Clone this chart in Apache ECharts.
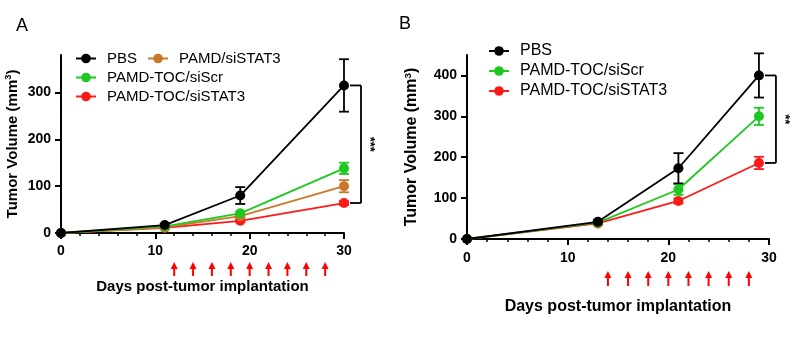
<!DOCTYPE html>
<html>
<head>
<meta charset="utf-8">
<script src="https://cdn.jsdelivr.net/npm/echarts@6/dist/echarts.min.js"></script>
<style>html,body{margin:0;padding:0;background:#fff}#c{width:800px;height:343px}</style>
</head>
<body>
<div id="c"></div>
<script>
// ---- Panel A data ----
const daysA = [0, 11, 19, 30];
const pbsA = [0, 17, 80, 315];
const pbsAErr = [0, 3, 18, 56];
const pamdStat3A = [0, 12, 36, 100];
const pamdStat3AErr = [0, 2, 4, 13];
const tocScrA = [0, 14, 42, 138];
const tocScrAErr = [0, 2, 4, 12];
const tocStat3A = [0, 11, 26, 64];
const tocStat3AErr = [0, 2, 3, 4];
const doseDaysA = [12, 14, 16, 18, 20, 22, 24, 26, 28];
const sigA = { day: 30, top: 315, bottom: 64, label: '***' };
const yTicksA = [0, 100, 200, 300];
const xTicks = [0, 10, 20, 30];

// ---- Panel B data ----
const daysB = [0, 13, 21, 29];
const pbsB = [0, 42, 173, 400];
const pbsBErr = [0, 4, 37, 54];
const tocScrB = [0, 40, 121, 300];
const tocScrBErr = [0, 3, 13, 21];
const tocStat3B = [0, 38, 93, 186];
const tocStat3BErr = [0, 3, 6, 15];
const doseDaysB = [14, 16, 18, 20, 22, 24, 26, 28];
const sigB = { day: 29, top: 400, bottom: 186, label: '**' };
const yTicksB = [0, 100, 200, 300, 400];

const names = { pbs: 'PBS', pamd: 'PAMD/siSTAT3', scr: 'PAMD-TOC/siScr', stat3: 'PAMD-TOC/siSTAT3' };
const colors = { pbs: '#000000', pamd: '#c8782a', scr: '#1ec81e', stat3: '#ff1a1a' };
const FONT = 'Liberation Sans, Arial, sans-serif';

function pairs(x, y) { return x.map((d, i) => [d, y[i]]); }
function errData(x, y, e) { return x.map((d, i) => [d, y[i], e[i]]); }

function lineSeries(key, x, y, idx) {
  return {
    type: 'line', name: names[key], xAxisIndex: idx, yAxisIndex: idx,
    data: pairs(x, y), symbol: 'circle', symbolSize: 10,
    itemStyle: { color: colors[key] }, lineStyle: { color: colors[key], width: 1.8 },
    z: 3, animation: false
  };
}
function errSeries(key, x, y, e, idx) {
  return {
    type: 'custom', name: names[key] + ' err', xAxisIndex: idx, yAxisIndex: idx,
    data: errData(x, y, e), z: 2, animation: false, silent: true,
    renderItem: function (params, api) {
      const xv = api.value(0), m = api.value(1), er = api.value(2);
      if (!er) return null;
      const hi = api.coord([xv, m + er]);
      const lo = api.coord([xv, m - er]);
      const st = { stroke: colors[key], lineWidth: 1.8 };
      return {
        type: 'group', children: [
          { type: 'line', shape: { x1: hi[0], y1: hi[1], x2: lo[0], y2: lo[1] }, style: st },
          { type: 'line', shape: { x1: hi[0] - 5, y1: hi[1], x2: hi[0] + 5, y2: hi[1] }, style: st },
          { type: 'line', shape: { x1: lo[0] - 5, y1: lo[1], x2: lo[0] + 5, y2: lo[1] }, style: st }
        ]
      };
    }
  };
}
function arrowSeries(days, idx, top, bottom) {
  return {
    type: 'custom', xAxisIndex: idx, yAxisIndex: idx, data: days.map(d => [d, 0]),
    clip: false, silent: true, animation: false, z: 5,
    renderItem: function (params, api) {
      const p = api.coord([api.value(0), 0]);
      const y0 = p[1] + top, y1 = p[1] + bottom;
      return {
        type: 'group', children: [
          { type: 'line', shape: { x1: p[0], y1: y0 + 5, x2: p[0], y2: y1 }, style: { stroke: '#ff0000', lineWidth: 2 } },
          { type: 'polygon', shape: { points: [[p[0], y0], [p[0] - 3.5, y0 + 7], [p[0] + 3.5, y0 + 7]] }, style: { fill: '#ff0000' } }
        ]
      };
    }
  };
}
function sigSeries(sig, idx) {
  return {
    type: 'custom', xAxisIndex: idx, yAxisIndex: idx,
    data: [[sig.day, sig.top, sig.bottom]], clip: false, silent: true, animation: false, z: 5,
    renderItem: function (params, api) {
      const t = api.coord([api.value(0), api.value(1)]);
      const b = api.coord([api.value(0), api.value(2)]);
      const xs = t[0] + 6, xv = t[0] + 17;
      const st = { stroke: '#000', lineWidth: 1.8 };
      return {
        type: 'group', children: [
          { type: 'line', shape: { x1: xs, y1: t[1], x2: xv, y2: t[1] }, style: st },
          { type: 'line', shape: { x1: xv, y1: t[1], x2: xv, y2: b[1] }, style: st },
          { type: 'line', shape: { x1: xs, y1: b[1], x2: xv, y2: b[1] }, style: st },
          { type: 'text', x: t[0] + 26, y: (t[1] + b[1]) / 2, rotation: -Math.PI / 2,
            style: { text: sig.label, fill: '#000', font: 'bold 13px ' + FONT, align: 'center', verticalAlign: 'middle' } }
        ]
      };
    }
  };
}

function xAxis(idx, labelMargin, nameGap, nameSize) {
  return {
    type: 'value', gridIndex: idx, min: 0, max: 30, interval: 10,
    name: 'Days post-tumor implantation', nameLocation: 'middle', nameGap: nameGap,
    nameTextStyle: { fontFamily: FONT, fontWeight: 'bold', fontSize: nameSize, color: '#000' },
    axisLine: { onZero: false, lineStyle: { color: '#000', width: 2 } },
    axisTick: { show: true, length: 6, lineStyle: { color: '#000', width: 2 } },
    minorTick: { show: true, splitNumber: 5, length: 3, lineStyle: { color: '#000', width: 1.5 } },
    axisLabel: { margin: labelMargin, fontFamily: FONT, fontWeight: 'bold', fontSize: 14, color: '#000' },
    splitLine: { show: false }, minorSplitLine: { show: false }
  };
}
function yAxis(idx, max, ticks, nameGap, nameSize) {
  return {
    type: 'value', gridIndex: idx, min: 0, max: max,
    name: 'Tumor Volume (mm{s|3})', nameLocation: 'middle', nameGap: nameGap, nameRotate: 90,
    nameTextStyle: { fontFamily: FONT, fontWeight: 'bold', fontSize: nameSize, color: '#000',
      rich: { s: { fontFamily: FONT, fontWeight: 'bold', fontSize: nameSize * 0.62, verticalAlign: 'top', padding: [0, 0, 8, 0], color: '#000' } } },
    axisLine: { show: true, lineStyle: { color: '#000', width: 2 } },
    axisTick: { show: true, length: 6, customValues: ticks, lineStyle: { color: '#000', width: 2 } },
    axisLabel: { margin: 10, customValues: ticks, fontFamily: FONT, fontWeight: 'bold', fontSize: 14, color: '#000' },
    splitLine: { show: false }
  };
}
function legend(data, left, top, orient, gap, size) {
  return {
    data: data, left: left, top: top, orient: orient, itemGap: gap, padding: 0,
    itemWidth: 20, itemHeight: 12, selectedMode: false,
    textStyle: { fontFamily: FONT, fontSize: size, color: '#000', padding: [0, 0, 0, 6] }
  };
}

const chart = echarts.init(document.getElementById('c'), null, { renderer: 'canvas' });
chart.setOption({
  animation: false,
  backgroundColor: '#fff',
  title: [
    { text: 'A', left: 11, top: 12, textStyle: { fontFamily: FONT, fontWeight: 'normal', fontSize: 18, color: '#000' } },
    { text: 'B', left: 394, top: 10, textStyle: { fontFamily: FONT, fontWeight: 'normal', fontSize: 18, color: '#000' } }
  ],
  legend: [
    legend([names.pbs, names.pamd], 75, 51, 'horizontal', 10, 15),
    legend([names.scr, names.stat3], 75, 70, 'vertical', 4, 15),
    legend([names.pbs, names.scr, names.stat3], 488, 43, 'vertical', 4, 16)
  ],
  grid: [
    { left: 61, right: 456, top: 55, bottom: 110, containLabel: false },
    { left: 467, right: 31, top: 55, bottom: 104, containLabel: false }
  ],
  xAxis: [xAxis(0, 11, 46, 15), xAxis(1, 12, 60, 16)],
  yAxis: [yAxis(0, 380, yTicksA, 40, 15), yAxis(1, 450, yTicksB, 46, 16)],
  series: [
    errSeries('stat3', daysA, tocStat3A, tocStat3AErr, 0),
    errSeries('pamd', daysA, pamdStat3A, pamdStat3AErr, 0),
    errSeries('scr', daysA, tocScrA, tocScrAErr, 0),
    errSeries('pbs', daysA, pbsA, pbsAErr, 0),
    lineSeries('stat3', daysA, tocStat3A, 0),
    lineSeries('pamd', daysA, pamdStat3A, 0),
    lineSeries('scr', daysA, tocScrA, 0),
    lineSeries('pbs', daysA, pbsA, 0),
    arrowSeries(doseDaysA, 0, 29, 43),
    sigSeries(sigA, 0),
    errSeries('stat3', daysB, tocStat3B, tocStat3BErr, 1),
    errSeries('scr', daysB, tocScrB, tocScrBErr, 1),
    errSeries('pbs', daysB, pbsB, pbsBErr, 1),
    lineSeries('stat3', daysB, tocStat3B, 1),
    lineSeries('scr', daysB, tocScrB, 1),
    lineSeries('pbs', daysB, pbsB, 1),
    arrowSeries(doseDaysB, 1, 32, 47),
    sigSeries(sigB, 1)
  ]
});
</script>
</body>
</html>
